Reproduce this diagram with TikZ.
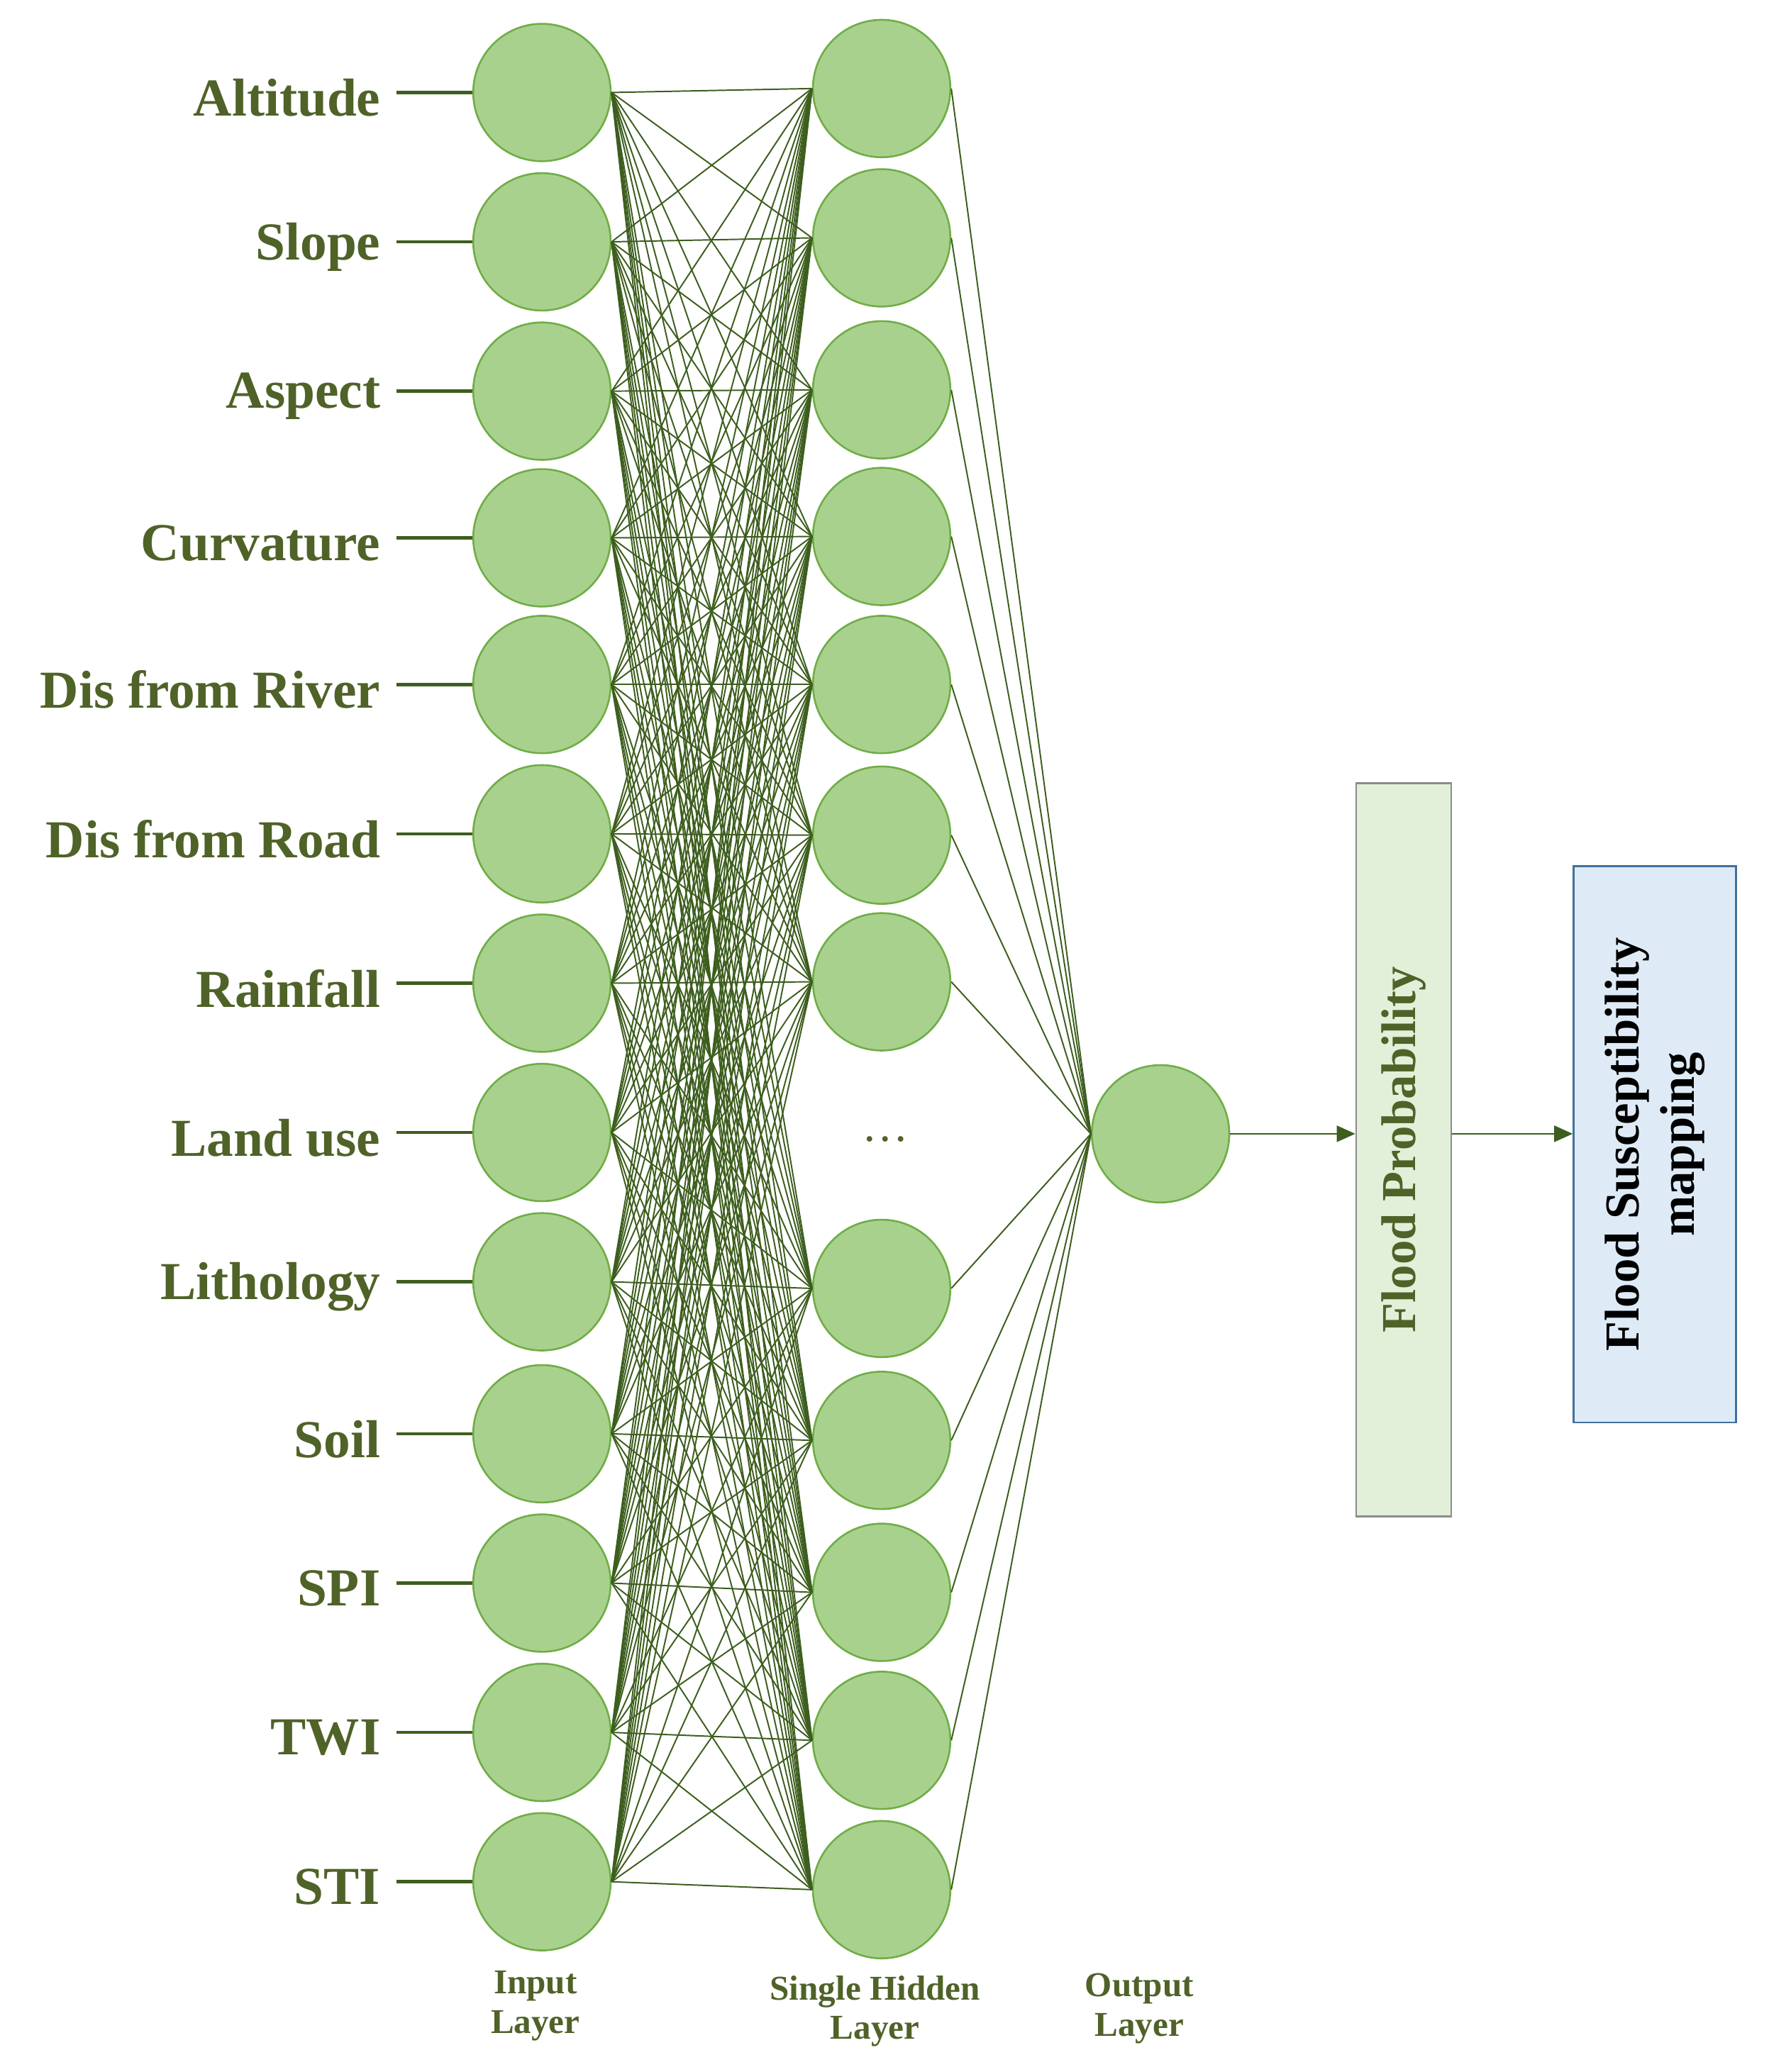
\documentclass[tikz,border=0pt]{standalone}
\usepackage{fontspec}
\setmainfont{Liberation Serif}
\usetikzlibrary{arrows.meta}
\definecolor{nfill}{HTML}{A9D18E}
\definecolor{nbord}{HTML}{70AD47}
\definecolor{wire}{HTML}{3D5E1E}
\definecolor{txt}{HTML}{4F6228}
\definecolor{fpfill}{HTML}{E2F0D9}
\definecolor{fsfill}{HTML}{DEEBF7}
\definecolor{fsbord}{HTML}{41719C}
\begin{document}
\begin{tikzpicture}[x=0.02cm,y=-0.02cm,
  neuron/.style={circle,draw=nbord,fill=nfill,line width=0.8pt,minimum size=2.08cm,inner sep=0},
  lab/.style={anchor=east,font=\fontsize{23}{26}\selectfont\bfseries,text=txt},
  wire/.style={draw=wire,line width=0.6pt},
  feed/.style={draw=wire,line width=1.4pt},
  layercap/.style={font=\fontsize{15}{17}\selectfont\bfseries,text=txt,align=center}]
\useasboundingbox (0,0) rectangle (1338,1568);
% input layer
\foreach \i/\y/\t in {1/70/Altitude,2/183/Slope,3/296/Aspect,4/407/Curvature,5/518/Dis from River,6/631/Dis from Road,7/744/Rainfall,8/857/Land use,9/970/Lithology,10/1085/Soil,11/1198/SPI,12/1311/TWI,13/1424/STI}{
  \node[neuron] (i\i) at (410,\y) {};
  \node[lab] (l\i) at (294,\y+4) {\t};
  \coordinate (s\i) at (300,\y);
  \draw[feed] (s\i) -- (i\i.west);
}
% hidden layer
\foreach \j/\y in {1/67,2/180,3/295,4/406,5/518,6/632,7/743,8/975,9/1090,10/1205,11/1317,12/1430}{
  \node[neuron] (h\j) at (667,\y) {};
}
\node[text=txt,font=\fontsize{20}{22}\selectfont] (dots) at (670,862) {\dots};
\node[neuron] (o) at (878,858) {};
\foreach \i in {1,...,13}{\foreach \j in {1,...,12}{\draw[wire] (i\i.east) -- (h\j.west);}}
\foreach \j in {1,...,12}{\draw[wire] (h\j.east) -- (o.west);}
% boxes
\node[draw=black!45,fill=fpfill,line width=0.8pt,minimum width=1.44cm,minimum height=11.1cm] (fp) at (1062,870) {};
\node[rotate=90,text=txt,font=\fontsize{21}{23}\selectfont\bfseries] at (fp) {Flood Probability};
\node[draw=fsbord,fill=fsfill,line width=0.8pt,minimum width=2.46cm,minimum height=8.42cm] (fs) at (1252,866) {};
\node[rotate=90,align=center,font=\fontsize{21}{24}\selectfont\bfseries] at (fs) {Flood Susceptibility\\mapping};
\draw[wire,line width=0.8pt,-{Triangle[length=8pt,width=7pt]}] (o.east) -- (o.east -| fp.west);
\draw[wire,line width=0.8pt,-{Triangle[length=8pt,width=7pt]}] (o.east -| fp.east) -- (o.east -| fs.west);
% captions
\node[layercap] (c1) at (405,1518) {Input\\Layer};
\node[layercap] (c2) at (662,1522) {Single Hidden\\Layer};
\node[layercap] (c3) at (862,1520) {Output\\Layer};
\end{tikzpicture}
\end{document}
